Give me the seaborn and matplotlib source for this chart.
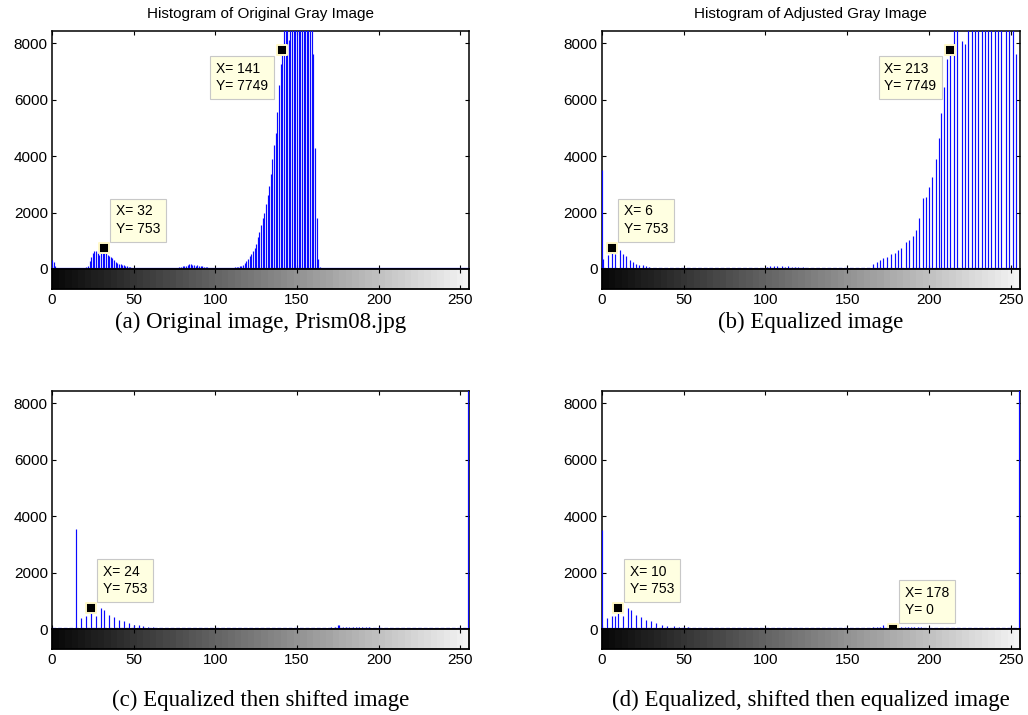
import numpy as np
import pandas as pd
import matplotlib
matplotlib.use("Agg")
import matplotlib.pyplot as plt
import seaborn as sns

# ---------------- data ----------------
# (a) original image histogram, one count per gray level 0..255
ORIG_COUNTS = [
    320, 260, 90, 40, 35, 35, 30, 35, 30, 35,            # 0-9
    30, 35, 30, 30, 35, 30, 35, 30, 35, 40,              # 10-19
    45, 60, 120, 300, 440, 560, 620, 630, 560, 500,      # 20-29
    600, 700, 753, 600, 480, 460, 440, 380, 320, 260,    # 30-39
    220, 190, 170, 150, 130, 110, 90, 75, 60, 50,        # 40-49
    45, 40, 35, 35, 30, 35, 30, 30, 35, 30,              # 50-59
    30, 35, 30, 30, 35, 30, 30, 35, 30, 30,              # 60-69
    35, 30, 30, 35, 30, 35, 40, 45, 55, 70,              # 70-79
    90, 110, 120, 140, 160, 165, 150, 130, 120, 125,     # 80-89
    110, 100, 90, 80, 70, 60, 50, 45, 40, 35,            # 90-99
    35, 30, 35, 30, 35, 30, 35, 30, 35, 40,              # 100-109
    45, 50, 60, 70, 80, 90, 100, 150, 230, 300,          # 110-119
    370, 450, 540, 620, 740, 900, 1150, 1320, 1550, 1790,  # 120-129
    2000, 2300, 2620, 2950, 3350, 3900, 4400, 4800, 5560, 6500,  # 130-139
    7270, 7749, 8600, 9300, 9900, 8100, 10600, 11200, 11800, 12300,  # 140-149
    12500, 12300, 12000, 11600, 11100, 10600, 10100, 9600, 9200, 8800,  # 150-159
    7600, 4300, 1800, 370, 80, 40, 35, 35, 30, 35,       # 160-169
    30, 35, 30, 35, 30, 30, 35, 30, 35, 30,              # 170-179
    35, 30, 30, 35, 30, 35, 30, 30, 35, 30,              # 180-189
    30, 35, 30, 35, 30, 30, 35, 30, 35, 30,              # 190-199
    35, 30, 30, 35, 30, 35, 30, 30, 35, 30,              # 200-209
    30, 35, 30, 35, 30, 30, 35, 30, 35, 30,              # 210-219
    35, 30, 30, 35, 30, 35, 30, 30, 35, 30,              # 220-229
    30, 35, 30, 35, 30, 30, 35, 30, 35, 30,              # 230-239
    35, 30, 30, 35, 30, 35, 30, 30, 35, 30,              # 240-249
    30, 35, 30, 35, 30, 45,                              # 250-255
]
ORIG_BINS = list(range(256))

# (b) equalized image histogram (only occupied gray levels)
EQ_BINS = [0, 1, 4, 6, 8, 11, 13, 15, 17, 19, 21, 23, 25, 27, 29, 32, 35,
           101, 103, 105, 107, 110, 112, 114, 116, 118, 120, 123, 125,
           164, 166, 168, 170, 172, 174, 177, 179, 181, 183, 186, 188, 190,
           192, 194, 196, 198, 200, 202, 204, 206, 207, 209, 211, 213, 215,
           217, 220, 222, 224, 226, 228, 230, 232, 234, 236, 238, 240, 242,
           244, 247, 249, 251, 253]
EQ_COUNTS = [3500, 370, 480, 753, 540, 680, 520, 450, 330, 250, 190, 130, 130, 110, 70, 50, 40,
             60, 90, 110, 120, 100, 80, 90, 70, 60, 70, 60, 50,
             50, 165, 235, 320, 380, 410, 520, 555, 670, 730, 940, 1030, 1180,
             1380, 1790, 2500, 2560, 2890, 3270, 3910, 4620, 5510, 6450, 7450, 7749, 9500,
             9000, 8070, 7970, 9800, 10500, 11000, 11500, 11200, 10800, 11000, 10500, 10200, 10000,
             9800, 9600, 9300, 9000, 7600]

# (c) equalized then shifted image histogram
SHIFT_BINS = [15, 18, 21, 24, 27, 30, 32, 35, 38, 41, 44, 47, 50, 53, 56, 59, 62, 66, 69, 72,
              163, 165, 167, 169, 171, 173, 175, 176, 178, 180, 182, 184, 186, 188, 190,
              192, 194, 196, 198, 200, 203, 205, 207,
              255]
SHIFT_COUNTS = [3530, 410, 470, 753, 470, 740, 680, 500, 420, 330, 280, 230, 160, 140, 130, 95, 70, 55, 45, 40,
                50, 55, 60, 60, 70, 80, 150, 150, 95, 95, 90, 80, 80, 75, 70,
                70, 65, 60, 60, 80, 60, 55, 50,
                12000]

# (d) equalized, shifted then equalized image histogram
EQ2_BINS = [0, 3, 6, 8, 10, 13, 16, 18, 21, 24, 27, 30, 33, 37, 40, 44, 47, 50, 53, 56,
            158, 160, 162, 164, 166, 168, 170, 172, 175, 181, 183, 185, 187, 189, 191,
            193, 195, 197, 199, 201,
            255]
EQ2_COUNTS = [3500, 400, 470, 470, 753, 470, 740, 670, 520, 420, 330, 290, 220, 140, 125, 125, 95, 80, 70, 60,
              50, 55, 55, 60, 65, 70, 75, 150, 100, 90, 90, 85, 80, 75, 75,
              70, 65, 60, 60, 55,
              12000]

# data tips (gray level, count)
TIPS_A = [(32, 753), (141, 7749)]
TIPS_B = [(6, 753), (213, 7749)]
TIPS_C = [(24, 753)]
TIPS_D = [(10, 753), (178, 0)]

TITLES = ["Histogram of Original Gray Image", "Histogram of Adjusted Gray Image", "", ""]
CAPTIONS = ["(a) Original image, Prism08.jpg", "(b) Equalized image",
            "(c) Equalized then shifted image", "(d) Equalized, shifted then equalized image"]
XTICKS = [0, 50, 100, 150, 200, 250]
YTICKS = [0, 2000, 4000, 6000, 8000]
Y_MAX = 8425
X_MAX = 255.5
GRAY_LEVELS = 64
BASELINE_LEVEL = 45

# ---------------- styling / layout ----------------
sns.set_theme(style="white")
plt.rcParams["font.family"] = ["Liberation Sans", "DejaVu Sans"]

W, H = 1028, 715
fig = plt.figure(figsize=(W / 100, H / 100), dpi=100)
fig.patch.set_facecolor("white")


def px_rect(l, t, r, b):
    return [l / W, 1 - b / H, (r - l) / W, (b - t) / H]


# (left, top, right, hist bottom, colorbar bottom) in pixels
LAYOUT = [
    (52.0, 31.0, 469.3, 269.0, 289.0),
    (601.7, 31.0, 1020.0, 269.0, 289.0),
    (52.0, 391.0, 469.3, 629.3, 648.7),
    (601.7, 391.0, 1020.0, 629.3, 648.7),
]
# placement of each tip box: 'ur' = upper right of point, 'll' = lower left
TIP_PLACES = [["ur", "ll"], ["ur", "ll"], ["ur"], ["ur", "ur"]]
CAPTION_Y = [322, 322, 700, 700]
BASE_STYLE = ["-", (0, (3, 1.5)), (0, (3, 1.5)), (0, (3, 1.5))]

datasets = [
    (ORIG_BINS, ORIG_COUNTS, TIPS_A),
    (EQ_BINS, EQ_COUNTS, TIPS_B),
    (SHIFT_BINS, SHIFT_COUNTS, TIPS_C),
    (EQ2_BINS, EQ2_COUNTS, TIPS_D),
]

BLUE = "#0a0aff"
TICK_FS = 11

for i, ((bins, counts, tips), (l, t, r, hb, cb)) in enumerate(zip(datasets, LAYOUT)):
    assert len(bins) == len(counts)
    df = pd.DataFrame({"level": bins, "count": counts})

    ax = fig.add_axes(px_rect(l, t, r, hb))
    cax = fig.add_axes(px_rect(l, hb, r, cb))

    # stems
    ax.vlines(df["level"], 0, df["count"], color=BLUE, lw=0.85, zorder=2.6)
    ax.axhline(BASELINE_LEVEL, color=BLUE, lw=0.9, ls=BASE_STYLE[i], zorder=2.55)

    ax.set_xlim(0, X_MAX)
    ax.set_ylim(0, Y_MAX)
    ax.set_xticks(XTICKS)
    ax.set_yticks(YTICKS)
    ax.set_yticklabels([str(v) for v in YTICKS])
    ax.tick_params(axis="x", direction="in", top=True, bottom=True, labelbottom=False,
                   length=3, width=0.8, color="black")
    ax.tick_params(axis="y", direction="in", left=True, right=True, length=3, width=0.8,
                   color="black", labelsize=TICK_FS, pad=3, labelcolor="black")
    ax.set_facecolor("white")
    for s in ax.spines.values():
        s.set_color("black")
        s.set_linewidth(1.1)
        s.set_visible(True)
    ax.grid(False)

    # data tips
    tdf = pd.DataFrame(tips, columns=["level", "count"])
    sns.scatterplot(data=tdf, x="level", y="count", marker="s", s=55, color="black",
                    edgecolor="#fff8c8", linewidth=1.4, ax=ax, zorder=6, legend=False)
    ax.set_xlabel("")
    ax.set_ylabel("")
    for (x, y), place in zip(tips, TIP_PLACES[i]):
        if place == "ur":
            off, ha, va = (12, 12), "left", "bottom"
        else:
            off, ha, va = (-14, -12), "right", "top"
        ax.annotate(f"X= {x}\nY= {y}", xy=(x, y), xytext=off, textcoords="offset pixels",
                    ha=ha, va=va, fontsize=10, color="black", multialignment="left",
                    linespacing=1.3,
                    bbox=dict(boxstyle="square,pad=0.42", fc="#ffffe1", ec="#c8c8c8", lw=0.8),
                    zorder=7, annotation_clip=False)

    # gray-level colorbar
    grad = np.linspace(0.03, 0.95, GRAY_LEVELS)[None, :]
    cax.imshow(grad, extent=[0, X_MAX, 0, 1], aspect="auto", cmap="gray", vmin=0, vmax=1,
               interpolation="nearest")
    cax.set_xlim(0, X_MAX)
    cax.set_ylim(0, 1)
    cax.set_xticks(XTICKS)
    cax.set_xticklabels([str(v) for v in XTICKS])
    cax.set_yticks([])
    cax.tick_params(axis="x", direction="in", top=True, bottom=True, length=3, width=0.8,
                    color="black", labelsize=TICK_FS, pad=3, labelcolor="black")
    for s in cax.spines.values():
        s.set_color("black")
        s.set_linewidth(1.3)
        s.set_visible(True)

    cx = (l + r) / 2
    if TITLES[i]:
        fig.text(cx / W, 1 - 14 / H, TITLES[i], ha="center", va="center",
                 fontsize=11, color="black")
    fig.text(cx / W, 1 - CAPTION_Y[i] / H, CAPTIONS[i], ha="center", va="center",
             fontsize=16.5, color="black", family=["Liberation Serif", "DejaVu Serif"])

fig.savefig("out.png", dpi=100, facecolor="white")
